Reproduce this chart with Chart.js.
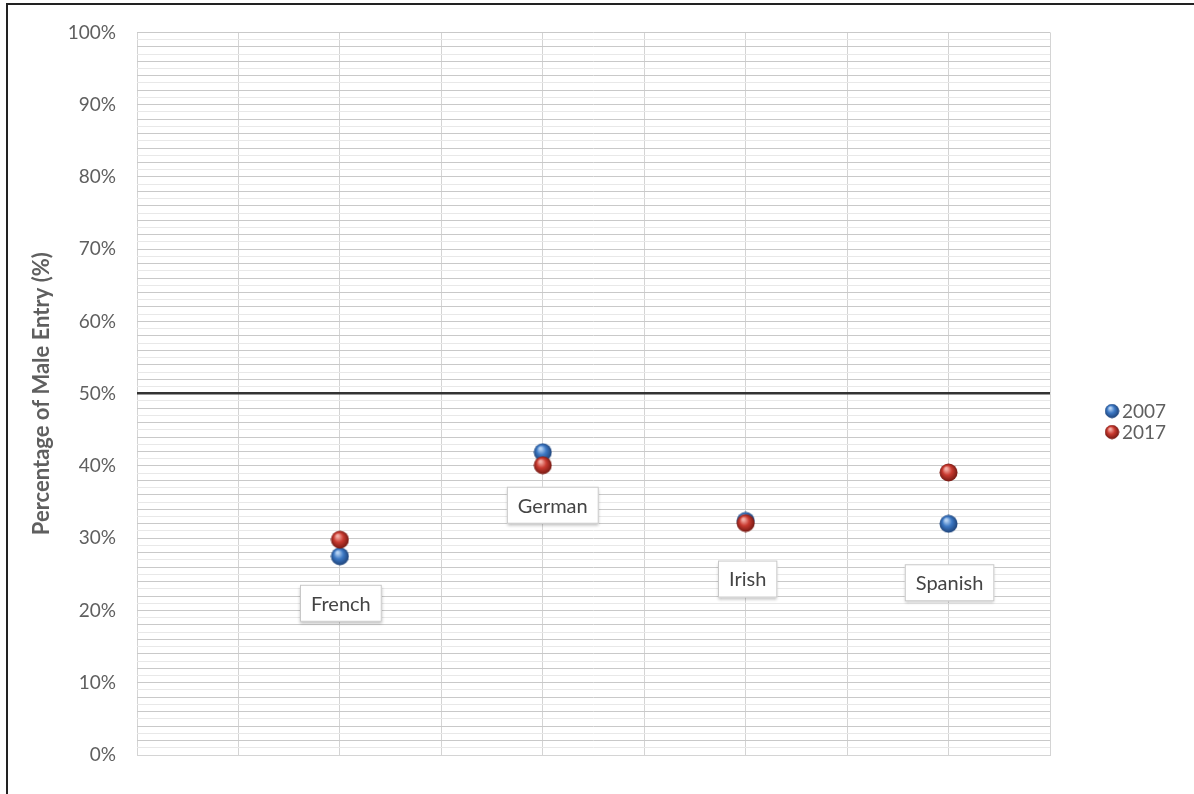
<!DOCTYPE html>
<html>
<head>
<meta charset="utf-8">
<style>
  html, body { margin: 0; padding: 0; background: #fff; }
  #wrap { position: relative; width: 1194px; height: 794px; }
  #frame { position: absolute; left: 6px; top: 3px; right: 0; bottom: 0;
           border-left: 2px solid #222; border-top: 2px solid #222; pointer-events: none; }
</style>
<script src="https://cdn.jsdelivr.net/npm/chart.js@4"></script>
</head>
<body>
<div id="wrap">
  <canvas id="chart" width="1194" height="794"></canvas>
  <div id="frame"></div>
</div>
<script>
// --- data ---
const categories = ['French', 'German', 'Irish', 'Spanish'];
const catPos = [2, 4, 6, 8];            // slot on the x axis (0..9)
const years = ['2007', '2017'];
const values2007 = [27.5, 41.9, 32.4, 32.0];
const values2017 = [29.8, 40.1, 32.1, 39.1];
const yTicks = [0, 10, 20, 30, 40, 50, 60, 70, 80, 90, 100];
const refLine = 50;

const FONT = 'Lato, "Open Sans", sans-serif';
const TEXT = '#5f5f5f';

// shaded ball used as point style
function ball(base, light, dark, size) {
  const c = document.createElement('canvas');
  c.width = c.height = size;
  const g = c.getContext('2d');
  const r = size / 2;
  const grad = g.createRadialGradient(r * 0.75, r * 0.6, 1, r, r, r);
  grad.addColorStop(0, light);
  grad.addColorStop(0.45, base);
  grad.addColorStop(1, dark);
  g.fillStyle = grad;
  g.beginPath();
  g.arc(r, r, r - 0.5, 0, Math.PI * 2);
  g.fill();
  return c;
}
const blueBall = ball('#3c78c4', '#b8d4f4', '#1c3f73', 19);
const redBall = ball('#c93a30', '#f4b0a8', '#6e1610', 19);

const toPoints = vals => vals.map((v, i) => ({ x: catPos[i], y: v }));

// category boxes under the points
const labelBoxes = {
  id: 'labelBoxes',
  afterDatasetsDraw(chart, args, opts) {
    const ctx = chart.ctx;
    const xs = chart.scales.x, ys = chart.scales.y;
    ctx.save();
    ctx.font = '20px ' + FONT;
    categories.forEach((name, i) => {
      const low = Math.min(values2007[i], values2017[i]);
      const cx = xs.getPixelForValue(catPos[i]) + opts.dx[i];
      const cy = ys.getPixelForValue(low) + opts.dy[i];
      const w = ctx.measureText(name).width + 22, h = 37;
      ctx.shadowColor = 'rgba(0,0,0,0.25)';
      ctx.shadowBlur = 3;
      ctx.shadowOffsetY = 2;
      ctx.fillStyle = '#fff';
      ctx.fillRect(cx - w / 2, cy - h / 2, w, h);
      ctx.shadowColor = 'transparent';
      ctx.strokeStyle = '#c8c8c8';
      ctx.lineWidth = 1;
      ctx.strokeRect(cx - w / 2 + 0.5, cy - h / 2 + 0.5, w - 1, h - 1);
      ctx.fillStyle = '#444';
      ctx.textAlign = 'center';
      ctx.textBaseline = 'middle';
      ctx.fillText(name, cx, cy + 1);
    });
    ctx.restore();
  }
};

// legend at the right
const sideLegend = {
  id: 'sideLegend',
  afterDraw(chart, args, opts) {
    const ctx = chart.ctx;
    ctx.save();
    ctx.font = '19px ' + FONT;
    ctx.fillStyle = TEXT;
    ctx.textBaseline = 'middle';
    chart.data.datasets.forEach((ds, i) => {
      if (!ds.pointStyle || typeof ds.pointStyle === 'string') return;
      const y = opts.y + i * opts.gap;
      ctx.drawImage(ds.pointStyle, opts.x - 7.5, y - 7.5, 15, 15);
      ctx.fillText(ds.label, opts.x + 10, y + 1);
    });
    ctx.restore();
  }
};

new Chart(document.getElementById('chart'), {
  type: 'scatter',
  data: {
    datasets: [
      { label: years[0], data: toPoints(values2007), pointStyle: blueBall, pointRadius: 9, pointHoverRadius: 9, order: 1 },
      { label: years[1], data: toPoints(values2017), pointStyle: redBall, pointRadius: 9, pointHoverRadius: 9, order: 0 }
    ]
  },
  options: {
    responsive: false,
    animation: false,
    layout: { padding: { left: 0, right: 144, top: 27, bottom: 39 } },
    plugins: {
      legend: { display: false },
      tooltip: { enabled: false },
      labelBoxes: { dx: [1, 10, 2, 1], dy: [47, 40, 56, 59] },
      sideLegend: { x: 1112, y: 411, gap: 21 }
    },
    scales: {
      x: {
        type: 'linear', min: 0, max: 9,
        ticks: { display: false, stepSize: 1 },
        grid: { color: '#d4d4d4', drawTicks: false },
        border: { color: '#d4d4d4' }
      },
      y: {
        min: 0, max: 100,
        afterFit: s => { s.width = 137; },
        afterBuildTicks: s => {
          const t = [];
          for (let v = 0; v <= 100; v++) t.push({ value: v });
          s.ticks = t;
        },
        ticks: {
          autoSkip: false,
          padding: 21,
          color: TEXT,
          font: { family: FONT, size: 19 },
          callback: v => yTicks.includes(v) ? v + '%' : ''
        },
        grid: {
          drawTicks: false,
          color: c => c.tick.value === refLine ? '#333' : (c.tick.value % 2 === 0 ? '#c9c9c9' : '#e8e8e8'),
          lineWidth: c => c.tick.value === refLine ? 2.5 : 1
        },
        border: { display: false },
        title: {
          display: true,
          text: 'Percentage of Male Entry (%)',
          color: TEXT,
          font: { family: FONT, size: 22, weight: 'bold' },
          padding: { top: 29, bottom: 0 }
        }
      }
    }
  },
  plugins: [labelBoxes, sideLegend]
});
</script>
</body>
</html>
